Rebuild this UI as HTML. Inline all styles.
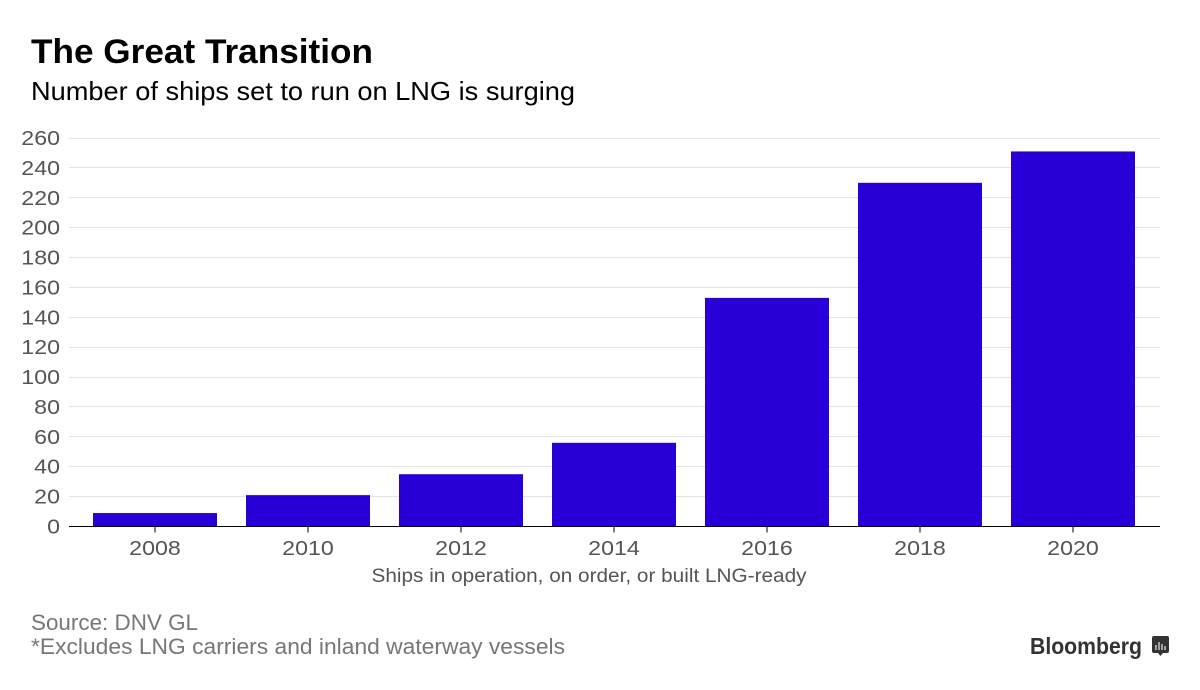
<!DOCTYPE html>
<html lang="en">
<head>
<meta charset="utf-8">
<title>The Great Transition</title>
<style>
html,body{margin:0;padding:0;background:#fff;width:1200px;height:690px;overflow:hidden}
svg{display:block;font-family:"Liberation Sans",sans-serif}
</style>
</head>
<body>
<svg id="chart" width="1200" height="690" viewBox="0 0 1200 690" xmlns="http://www.w3.org/2000/svg">
  <rect width="1200" height="690" fill="#fff"/>
  <text x="31" y="63" font-size="34" font-weight="700" fill="#000" textLength="342" lengthAdjust="spacingAndGlyphs">The Great Transition</text>
  <text x="31" y="100" font-size="26" fill="#000" textLength="544" lengthAdjust="spacingAndGlyphs">Number of ships set to run on LNG is surging</text>
  <g id="grid"></g>
  <g id="y-axis"></g>
  <g id="bars"></g>
  <g id="x-axis"></g>
  <text x="589" y="582" font-size="19" fill="#555" text-anchor="middle" textLength="435" lengthAdjust="spacingAndGlyphs">Ships in operation, on order, or built LNG-ready</text>
  <text x="31" y="630" font-size="22" fill="#777" textLength="167" lengthAdjust="spacingAndGlyphs">Source: DNV GL</text>
  <text x="31" y="654" font-size="22" fill="#777" textLength="534" lengthAdjust="spacingAndGlyphs">*Excludes LNG carriers and inland waterway vessels</text>
  <text x="1030" y="654" font-size="23" font-weight="700" fill="#333" textLength="112" lengthAdjust="spacingAndGlyphs">Bloomberg</text>
  <g>
    <path d="M1154 636h13a2 2 0 0 1 2 2v13a2 2 0 0 1-2 2h-4l-2.500 3-2.500-3h-4a2 2 0 0 1-2-2v-13a2 2 0 0 1 2-2z" fill="#333"/>
    <path d="M1156 645v5M1159 642v8M1162 644v6M1165 646v4" stroke="#ddd" stroke-width="1.300" fill="none"/>
  </g>
</svg>
<script>
const categories = ['2008', '2010', '2012', '2014', '2016', '2018', '2020'];
const shipCounts = [9, 21, 35, 56, 153, 230, 251];
const yTickLabels = [0, 20, 40, 60, 80, 100, 120, 140, 160, 180, 200, 220, 240, 260];

const SVG_NS = 'http://www.w3.org/2000/svg';
const plotLeft = 69, plotRight = 1160, plotTop = 138, plotBottom = 526.5;
const yMax = 260, bandStart = 78.5, bandStep = 153, barWidth = 124;
const digitWidth = 12.9;

function yScale(v) { return plotBottom - (v / yMax) * (plotBottom - plotTop); }
function crisp(y) { return Math.round(y - 0.5) + 0.5; }
function xCenter(i) { return bandStart + bandStep * (i + 0.5); }
function make(tag, attrs, parent) {
  const el = document.createElementNS(SVG_NS, tag);
  for (const k in attrs) el.setAttribute(k, attrs[k]);
  parent.appendChild(el);
  return el;
}

const grid = document.getElementById('grid');
const yAxis = document.getElementById('y-axis');
const bars = document.getElementById('bars');
const xAxis = document.getElementById('x-axis');

yTickLabels.forEach(function (t) {
  const y = yScale(t);
  if (t !== 0) {
    const gy = crisp(y);
    const line = make('line', { x1: plotLeft, x2: plotRight, y1: gy, y2: gy, stroke: '#e4e4e4', 'stroke-width': 1 }, grid);
    
    
  }
  const text = String(t);
  const label = make('text', { x: 60, y: y + 7, 'font-size': 20, fill: '#555', 'text-anchor': 'end', textLength: text.length * digitWidth, lengthAdjust: 'spacingAndGlyphs' }, yAxis);
  
  
  label.textContent = text;
});

shipCounts.forEach(function (v, i) {
  const top = yScale(v);
  const bar = make('rect', { x: xCenter(i) - barWidth / 2, y: top, width: barWidth, height: plotBottom - top, fill: '#2800d7' }, bars);
  
  
});

const baseline = make('line', { x1: plotLeft, x2: plotRight, y1: plotBottom, y2: plotBottom, stroke: '#000', 'stroke-width': 1 }, xAxis);



categories.forEach(function (c, i) {
  const x = xCenter(i);
  const tick = make('line', { x1: x, x2: x, y1: plotBottom, y2: plotBottom + 6, stroke: '#000', 'stroke-width': 1 }, xAxis);
  
  
  const label = make('text', { x: x, y: 555, 'font-size': 20, fill: '#555', 'text-anchor': 'middle', textLength: c.length * digitWidth, lengthAdjust: 'spacingAndGlyphs' }, xAxis);
  
  
  label.textContent = c;
});
</script>
</body>
</html>
